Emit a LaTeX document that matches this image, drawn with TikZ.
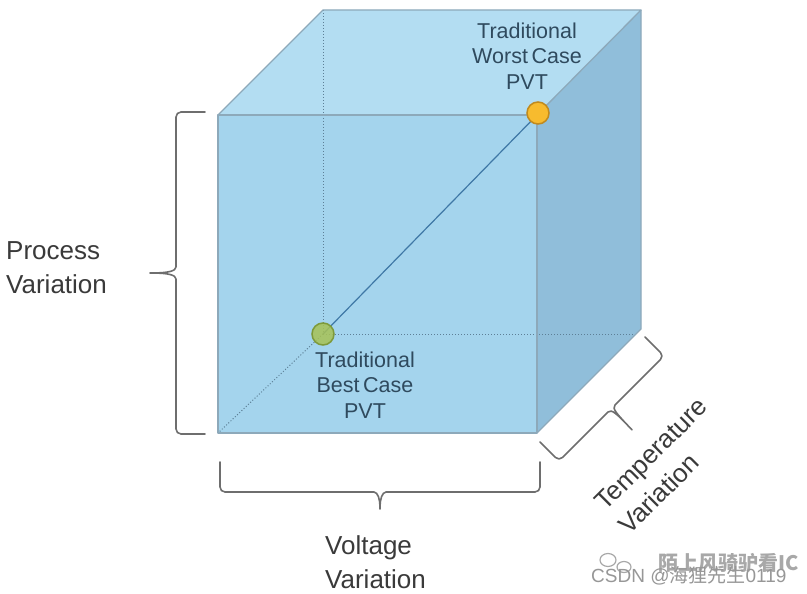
\documentclass[tikz,border=0pt]{standalone}
\usepackage{fontspec}
\setmainfont{Liberation Sans}
\newfontfamily\cjk{Noto Sans CJK SC}
\usetikzlibrary{calc}
\definecolor{frontc}{HTML}{A4D4ED}
\definecolor{topc}{HTML}{B3DDF2}
\definecolor{sidec}{HTML}{90BEDA}
\definecolor{edgec}{HTML}{8DA9BA}
\definecolor{hidc}{HTML}{5D7F96}
\definecolor{diagc}{HTML}{3F78A6}
\definecolor{intxt}{HTML}{2F4A5E}
\definecolor{outtxt}{HTML}{3A3A3A}
\definecolor{bracec}{HTML}{6E6E6E}
\definecolor{bestc}{HTML}{A7C255}
\definecolor{bestd}{HTML}{7E9A3A}
\definecolor{worstc}{HTML}{F7BB2E}
\definecolor{worstd}{HTML}{C08A1E}
\definecolor{wmc}{HTML}{A8A8A8}
\tikzset{
  cubeedge/.style={draw=edgec, line width=1.3pt, line join=round},
  hidden/.style={draw=hidc, line width=1pt, dotted},
  bracestyle/.style={draw=bracec, line width=1.6pt, rounded corners=5pt, line cap=round, line join=round},
  inlabel/.style={align=center, text=intxt, font=\fontsize{21.5}{25.5}\selectfont, inner sep=0pt},
  outlabel/.style={align=left, text=outtxt, font=\fontsize{26}{34}\selectfont, inner sep=0pt},
  pvtdot/.style={circle, minimum size=22pt, inner sep=0pt, line width=1.5pt},
  wm/.style={text=wmc, inner sep=0pt}
}
\begin{document}
\begin{tikzpicture}[x=1pt,y=-1pt]
\useasboundingbox (0,0) rectangle (807,594);
\fill[white] (0,0) rectangle (807,594);
% cube corners
\coordinate (F1) at (218,115);
\coordinate (F2) at (537,115);
\coordinate (F3) at (537,433);
\coordinate (F4) at (218,433);
\coordinate (B1) at (323,10);
\coordinate (B2) at (641,10);
\coordinate (B3) at (641,329);
\coordinate (B4) at (323,334);
\coordinate (H3) at (636,334);
% faces
\fill[frontc] (F1)--(F2)--(F3)--(F4)--cycle;
\fill[topc] (F1)--(B1)--(B2)--(F2)--cycle;
\fill[sidec] (F2)--(B2)--(B3)--(F3)--cycle;
% hidden edges
\draw[hidden] (B1)--(B4);
\draw[hidden] (B4)--(H3);
\draw[hidden] (B4)--(F4);
% diagonal
\draw[diagc, line width=1.2pt] (B4)--(F2);
% visible edges
\draw[cubeedge] (F1)--(F2)--(F3)--(F4)--cycle;
\draw[cubeedge] (F1)--(B1)--(B2)--(F2);
\draw[cubeedge] (B2)--(B3)--(F3);
% PVT corner dots
\node[pvtdot, fill=bestc, fill opacity=0.85, draw=bestd] (best) at (B4) {};
\node[pvtdot, fill=worstc, draw=worstd] (worst) at (538,113) {};
% inner labels
\node[inlabel] (worstlbl) at (527,56) {Traditional\\Worst\,Case\\PVT};
\node[inlabel] (bestlbl) at (365,385) {Traditional\\Best\,Case\\PVT};
% braces
\coordinate (LB1) at (205,112);
\coordinate (LB2) at (205,434);
\coordinate (LT) at (147,273);
\draw[bracestyle] (LB1) -- (176,112) -- (176,262)
  .. controls (176,271) and (168,273) .. (LT)
  .. controls (168,273) and (176,275) .. (176,284) -- (176,434) -- (LB2);
\coordinate (BB1) at (220,462);
\coordinate (BB2) at (540,462);
\coordinate (BT) at (380,512);
\draw[bracestyle] (BB1) -- (220,492) -- (369,492)
  .. controls (378,492) and (380,500) .. (BT)
  .. controls (380,500) and (382,492) .. (391,492) -- (540,492) -- (BB2);
\coordinate (DB1) at (540,442);
\coordinate (DB2) at (645,337);
\coordinate (DT) at (634,432);
\draw[bracestyle] (DB1) -- (559,461) -- (604.4,415.6)
  .. controls (611.5,408.5) and (617,414) .. (DT)
  .. controls (617,414) and (611.5,408.5) .. (618.6,401.4) -- (664,356) -- (DB2);
% outer labels
\node[outlabel, anchor=west] (proc) at (6,268) {Process\\Variation};
\node[outlabel, anchor=west] (volt) at (325,562) {Voltage\\Variation};
\node[outlabel, rotate=45] (temp) at (663,466) {Temperature\\Variation};
% watermark
\draw[wmc, line width=1.2pt] (608,560) ellipse (8pt and 6.5pt);
\draw[wmc, line width=1.2pt] (624,567) ellipse (7pt and 5.5pt);
\node[wm, anchor=west, font=\cjk\bfseries\fontsize{20}{20}\selectfont] (wm1) at (658,563) {陌上风骑驴看IC};
\node[wm, anchor=west, font=\fontsize{19}{19}\selectfont, text=wmc!120] (wm2) at (591,576) {CSDN @{\cjk 海狸先生}0119};
\end{tikzpicture}
\end{document}
